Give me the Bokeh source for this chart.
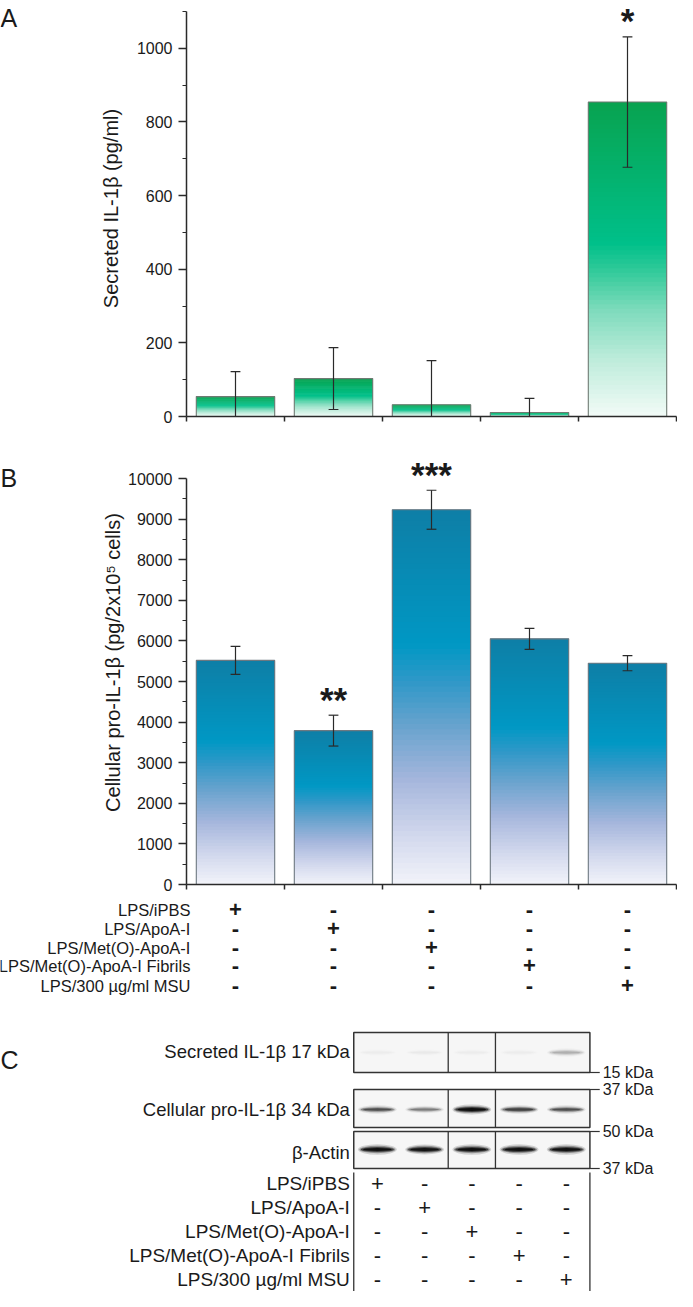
import numpy as np
from bokeh.plotting import figure
from bokeh.models import ColumnDataSource, Range1d, FixedTicker
from bokeh.layouts import column, row
from bokeh.embed import file_html
from bokeh.resources import INLINE
from bokeh.core.properties import value

# ---------------- data ----------------
treatments = ["LPS/iPBS", "LPS/ApoA-I", "LPS/Met(O)-ApoA-I",
              "LPS/Met(O)-ApoA-I Fibrils", "LPS/300 µg/ml MSU"]
lanes = [1, 2, 3, 4, 5]
treatment_lane = [1, 2, 3, 4, 5]          # lane that gets "+" for each treatment row

secreted_mean = [54, 103, 32, 11, 854]     # pg/ml
secreted_sem = [68, 84, 120, 38, 177]
secreted_sig = ["", "", "", "", "*"]
secreted_major = [0, 200, 400, 600, 800, 1000]
secreted_minor = [100, 300, 500, 700, 900, 1100]

cellular_mean = [5520, 3790, 9230, 6050, 5450]   # pg/2x10^5 cells
cellular_sem = [345, 380, 480, 260, 185]
cellular_sig = ["", "**", "***", "", ""]
cellular_major = [0, 1000, 2000, 3000, 4000, 5000, 6000, 7000, 8000, 9000, 10000]
cellular_minor = [500, 1500, 2500, 3500, 4500, 5500, 6500, 7500, 8500, 9500]

blot_labels = ["Secreted IL-1β 17 kDa", "Cellular pro-IL-1β 34 kDa", "β-Actin"]
band_secreted = [0.02, 0.03, 0.02, 0.02, 0.17]
band_cellular = [0.52, 0.33, 0.97, 0.58, 0.52]
band_actin = [0.95, 0.93, 0.96, 0.95, 0.95]
kda_labels = ["15 kDa", "37 kDa", "50 kDa", "37 kDa"]

# ---------------- layout constants ----------------
FONT = "Liberation Sans"
INK = "#1a1a1a"
W = 677
S = 676.0 / 687.0


def X(r):
    return (r - 3.0) * S


AXL = 186          # y axis line (content px)
AXR = 676          # right end of x axis
LW = 90            # width of the letter strip
PPX = (AXR - AXL) / 5.0

GREEN = [(0.0, (8, 163, 80)), (0.45, (0, 192, 138)), (0.53, (45, 201, 152)),
         (0.66, (125, 219, 188)), (0.82, (190, 236, 219)), (1.0, (242, 251, 247))]
BLUE = [(0.0, (14, 126, 166)), (0.36, (0, 152, 196)), (0.46, (48, 152, 200)),
        (0.58, (105, 163, 206)), (0.72, (165, 182, 220)), (0.87, (210, 216, 237)),
        (1.0, (242, 243, 250))]


def grad_color(stops, t):
    ts = [s[0] for s in stops]
    rgb = [int(round(np.interp(t, ts, [s[1][c] for s in stops]))) for c in range(3)]
    return "#%02x%02x%02x" % tuple(rgb)


def blank_fig(w, h, x0, x1, y0, y1):
    p = figure(width=w, height=h, title=None, x_range=Range1d(x0, x1),
               y_range=Range1d(y0, y1), output_backend="svg", toolbar_location=None,
               x_axis_type=None, y_axis_type=None, min_border=0, frame_align=False)
    p.xgrid.visible = False
    p.ygrid.visible = False
    p.outline_line_color = None
    return p


def letter_fig(h, letter, base):
    p = blank_fig(LW, h, 0, LW, h, 0)
    p.text(x=[X(3)], y=[base], text=[letter], text_align="left", text_baseline="alphabetic",
           text_font=value(FONT), text_font_size="25px", text_color=INK)
    return p


def bar_fig(h, axis_top, fbot, means, sems, sigs, ymax, major, minor, title,
            stops, outline, title_standoff):
    # frame spans from the canvas top to fbot; the axis itself only spans 0..ymax
    yend = ymax * fbot / (fbot - axis_top)
    p = figure(width=W - LW, height=h, title=None, x_range=Range1d(0.5, 5.5),
               y_range=Range1d(0, yend), output_backend="svg", toolbar_location=None,
               min_border_left=AXL - LW, min_border_right=W - AXR,
               min_border_top=0, min_border_bottom=h - fbot, frame_align=False)
    p.xgrid.visible = False
    p.ygrid.visible = False
    p.outline_line_color = None
    upp = yend / fbot          # data units per pixel

    # gradient bars
    N = 70
    xs, bots, tops, cols = [], [], [], []
    for x, v in zip(lanes, means):
        for k in range(N):
            xs.append(x)
            bots.append(v * k / N)
            tops.append(min(v, v * (k + 2) / N))
            cols.append(grad_color(stops, 1 - (k + 0.5) / N))
    p.vbar(x="x", width=0.8, bottom="b", top="t", fill_color="c", line_color=None,
           source=ColumnDataSource(dict(x=xs, b=bots, t=tops, c=cols)))
    p.vbar(x=lanes, width=0.8, bottom=0, top=means, fill_color=None,
           line_color=outline, line_width=1.1)

    # error bars
    lo = [m - e for m, e in zip(means, sems)]
    hi = [m + e for m, e in zip(means, sems)]
    ec = "#2a2a2a"
    p.segment(x0=lanes, y0=lo, x1=lanes, y1=hi, line_color=ec, line_width=1.2)
    cw = 0.05
    p.segment(x0=[x - cw for x in lanes], y0=hi, x1=[x + cw for x in lanes], y1=hi,
              line_color=ec, line_width=1.2)
    p.segment(x0=[x - cw for x in lanes], y0=lo, x1=[x + cw for x in lanes], y1=lo,
              line_color=ec, line_width=1.2)

    # significance marks
    sx = [x for x, s in zip(lanes, sigs) if s]
    sy = [v + 16 * upp for v, s in zip(hi, sigs) if s]
    st = [s for s in sigs if s]
    p.text(x=sx, y=sy, text=st, text_align="center", text_baseline="alphabetic",
           text_font=value(FONT), text_font_size="35px", text_font_style="bold",
           text_color=INK)

    # axes
    ya = p.yaxis[0]
    ya.bounds = (0, ymax)
    ya.ticker = FixedTicker(ticks=major, minor_ticks=minor)
    ya.axis_label = title
    ya.axis_label_text_font = FONT
    ya.axis_label_text_font_size = "20px"
    ya.axis_label_text_font_style = "normal"
    ya.axis_label_text_color = INK
    ya.axis_label_standoff = title_standoff
    ya.major_label_text_font = FONT
    ya.major_label_text_font_size = "16px"
    ya.major_label_text_color = INK
    ya.major_label_standoff = 6
    ya.major_tick_out = 8
    ya.major_tick_in = 0
    ya.minor_tick_out = 4
    ya.minor_tick_in = 0
    xa = p.xaxis[0]
    for a in (ya, xa):
        a.axis_line_width = 1.5
        a.axis_line_color = "#2a2a2a"
        a.major_tick_line_color = "#2a2a2a"
        a.major_tick_line_width = 1.5
        a.minor_tick_line_color = "#2a2a2a"
        a.minor_tick_line_width = 1.2
    xa.ticker = FixedTicker(ticks=[0.5, 1.5, 2.5, 3.5, 4.5, 5.5], minor_ticks=[])
    xa.major_tick_out = 5
    xa.major_tick_in = 0
    xa.major_label_standoff = 0
    xa.major_label_text_font_size = "2px"
    xa.major_label_text_color = None
    return p


# ---------------- panel A ----------------
HA = 440
pA = bar_fig(HA, 11, 416, secreted_mean, secreted_sem, secreted_sig, 1100,
             secreted_major, secreted_minor, "Secreted IL-1β (pg/ml)",
             GREEN, "#6f7a73", 12)
rowA = row(letter_fig(HA, "A", 17), pA)

# ---------------- panel B ----------------
HB = 454
pB = bar_fig(HB, 38, 444, cellular_mean, cellular_sem, cellular_sig, 10000,
             cellular_major, cellular_minor, "Cellular pro-IL-1β (pg/2x10⁵ cells)",
             BLUE, "#6d7880", 1)
rowB = row(letter_fig(HB, "B", 37), pB)

# treatment table under panel B
HT = 116
pT = blank_fig(W, HT, 0.5 - AXL / PPX, 0.5 + (W - AXL) / PPX, HT, 0)
rowsT = [15, 34, 53, 71, 91]
pT.text(x=[0.5 + (X(196) - AXL) / PPX] * 5, y=rowsT, text=treatments, text_align="right",
        text_baseline="middle", text_font=value(FONT), text_font_size="16.5px",
        text_color=INK)
tx, ty, tt = [], [], []
for r, tl in enumerate(treatment_lane):
    for ln in lanes:
        tx.append(ln)
        ty.append(rowsT[r])
        tt.append("+" if ln == tl else "-")
pT.text(x=tx, y=ty, text=tt, text_align="center", text_baseline="middle",
        text_font=value(FONT), text_font_size="22px", text_font_style="bold",
        text_color=INK)

# ---------------- panel C (western blot) ----------------
HC = 1291 - HA - HB - HT
b0, b1 = X(362), X(602)


def xc(px):
    return 0.5 + (px - b0) / (b1 - b0) * 5.0


pC = blank_fig(W, HC, xc(0), xc(W), HC, 0)

box_top = [22, 79, 121]
box_bot = [62, 117, 158]
band_y = [42, 99, 139]
label_y = [41, 99, 142]
band_h = [5.5, 4.6, 4.8]

pC.quad(left=0.5, right=5.5, top=box_top, bottom=box_bot, fill_color="#f6f6f6",
        line_color=None)

layers = [(1.08, 1.9, 0.10), (1.0, 1.35, 0.20), (0.92, 0.95, 0.35), (0.8, 0.55, 0.50)]
for rr, bands in enumerate([band_secreted, band_cellular, band_actin]):
    for (ws, hs, a) in layers:
        pC.ellipse(x=lanes, y=[band_y[rr]] * 5, width=[0.76 * ws] * 5,
                   height=[band_h[rr] * hs * (0.75 + 0.4 * b) for b in bands],
                   fill_color="#000000", fill_alpha=[min(1.0, 1.6 * a * b) for b in bands],
                   line_color=None)

pC.quad(left=0.5, right=5.5, top=box_top, bottom=box_bot, fill_color=None,
        line_color="#333333", line_width=1.5)
pC.segment(x0=[2.5] * 3 + [3.5] * 3, y0=box_top * 2, x1=[2.5] * 3 + [3.5] * 3,
           y1=box_bot * 2, line_color="#333333", line_width=1.3)

pC.text(x=[xc(X(358))] * 3, y=label_y, text=blot_labels, text_align="right",
        text_baseline="middle", text_font=value(FONT), text_font_size="18.5px",
        text_color=INK)

kda_y = [62, 79, 121, 158]
pC.segment(x0=[5.5] * 4, y0=kda_y, x1=[xc(X(612))] * 4, y1=kda_y, line_color="#333333",
           line_width=1.2)
pC.text(x=[xc(X(615))] * 4, y=kda_y, text=kda_labels, text_align="left",
        text_baseline="middle", text_font=value(FONT), text_font_size="16px",
        text_color=INK)

rowsC = [173, 197, 221, 245, 269]
pC.segment(x0=[0.5, 5.5], y0=[162, 162], x1=[0.5, 5.5], y1=[HC, HC],
           line_color="#333333", line_width=1.3)
pC.text(x=[xc(X(358))] * 5, y=rowsC, text=treatments, text_align="right",
        text_baseline="middle", text_font=value(FONT), text_font_size="19px",
        text_color=INK)
cx, cy, ct = [], [], []
for r, tl in enumerate(treatment_lane):
    for ln in lanes:
        cx.append(ln)
        cy.append(rowsC[r])
        ct.append("+" if ln == tl else "-")
pC.text(x=cx, y=cy, text=ct, text_align="center", text_baseline="middle",
        text_font=value(FONT), text_font_size="22px", text_color=INK)

pC.text(x=[xc(X(3))], y=[49], text=["C"], text_align="left", text_baseline="alphabetic",
        text_font=value(FONT), text_font_size="25px", text_color=INK)

layout = column(rowA, rowB, pT, pC)
open("out.html", "w").write(file_html(layout, INLINE))
